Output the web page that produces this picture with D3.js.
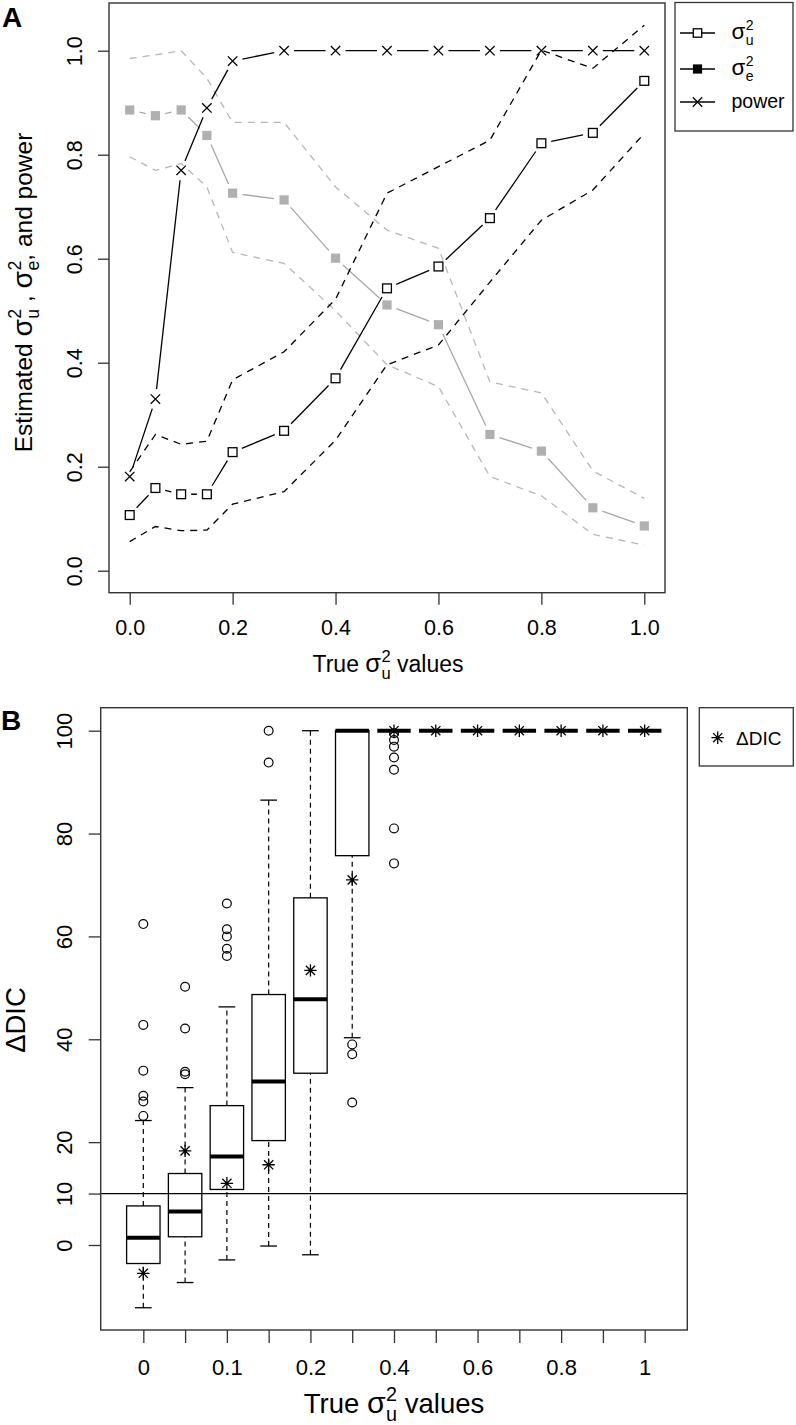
<!DOCTYPE html>
<html><head><meta charset="utf-8">
<script src="https://cdn.jsdelivr.net/npm/d3@7"></script>
<style>
body{margin:0;background:#fff}
svg{display:block}
text{font-family:"Liberation Sans",Arial,Helvetica,sans-serif;fill:#000;white-space:pre}
</style>
</head><body>
<svg id="c" width="796" height="1425"></svg>
<script>
// ---------------- DATA: panel A ----------------
const trueVals  = [0, 0.05, 0.1, 0.15, 0.2, 0.3, 0.4, 0.5, 0.6, 0.7, 0.8, 0.9, 1.0];
const sigmaU    = [0.107, 0.159, 0.147, 0.147, 0.228, 0.269, 0.370, 0.543, 0.585, 0.678, 0.822, 0.842, 0.942];
const sigmaULo  = [0.056, 0.085, 0.077, 0.078, 0.128, 0.152, 0.251, 0.396, 0.434, 0.555, 0.674, 0.732, 0.841];
const sigmaUHi  = [0.190, 0.262, 0.243, 0.249, 0.367, 0.421, 0.522, 0.726, 0.777, 0.828, 1.001, 0.966, 1.049];
const sigmaE    = [0.886, 0.875, 0.886, 0.837, 0.726, 0.713, 0.601, 0.511, 0.473, 0.262, 0.230, 0.121, 0.086];
const sigmaELo  = [0.796, 0.770, 0.783, 0.738, 0.612, 0.591, 0.500, 0.396, 0.354, 0.181, 0.144, 0.070, 0.049];
const sigmaEHi  = [0.985, 0.992, 1.000, 0.947, 0.862, 0.862, 0.738, 0.655, 0.620, 0.363, 0.342, 0.192, 0.139];
const power     = [0.181, 0.330, 0.770, 0.890, 0.980, 1, 1, 1, 1, 1, 1, 1, 1];
const aXTicks   = [0, 0.2, 0.4, 0.6, 0.8, 1.0];
const aYTicks   = [0, 0.2, 0.4, 0.6, 0.8, 1.0];

// ---------------- DATA: panel B ----------------
const categories = ["0","0.05","0.1","0.15","0.2","0.3","0.4","0.5","0.6","0.7","0.8","0.9","1"];
const bXLabels   = ["0","","0.1","","0.2","","0.4","","0.6","","0.8","","1"];
const whiskerLo  = [-12.2, -7.3, -2.9, -0.2, -1.9, 40.3, 100, 100, 100, 100, 100, 100, 100];
const q1         = [-3.6, 1.6, 10.8, 20.3, 33.4, 75.7, 100, 100, 100, 100, 100, 100, 100];
const medians    = [1.4, 6.5, 17.2, 31.8, 47.8, 100, 100, 100, 100, 100, 100, 100, 100];
const q3         = [7.6, 13.9, 27.1, 48.7, 67.5, 100, 100, 100, 100, 100, 100, 100, 100];
const whiskerHi  = [24.2, 30.6, 46.3, 86.5, 100, 100, 100, 100, 100, 100, 100, 100, 100];
const deltaDIC   = [-5.5, 18.3, 12.0, 15.6, 53.4, 71.0, 100, 100, 100, 100, 100, 100, 100];
const outliers   = [
  [62.4, 42.8, 33.9, 29.0, 27.9, 25.1],
  [50.2, 42.1, 33.7, 33.2],
  [66.4, 61.4, 60.0, 57.6, 56.2],
  [100, 93.8],
  [],
  [39.0, 37.1, 27.7],
  [99.5, 98.2, 96.9, 94.8, 92.4, 81.0, 74.2],
  [], [], [], [], [], []
];
const bYTicks = [0, 10, 20, 40, 60, 80, 100];
const refLine = 10;

// ---------------- helpers ----------------
const svg = d3.select("#c");
const FONT = '"Liberation Sans",Arial,Helvetica,sans-serif';

function mathText(sel, parts, F, bs) {
  bs = bs || 1.1;
  let reset = 0;
  parts.forEach(p => {
    if (typeof p === "string") {
      const t = sel.append("tspan").text(p);
      if (reset) { t.attr("dy", -reset); reset = 0; }
    } else {
      const b = sel.append("tspan").attr("font-size", bs * F).text(p.b);
      if (reset) { b.attr("dy", -reset); reset = 0; }
      const s = 0.72 * F;
      sel.append("tspan").attr("font-size", s).attr("dx", 0.5).attr("dy", -0.45 * F).text(p.sup);
      sel.append("tspan").attr("font-size", s).attr("dx", -0.556 * s).attr("dy", 0.45 * F + 0.30 * F).text(p.sub);
      reset = 0.30 * F;
    }
  });
}

function gappedPath(pts, gap) {
  let d = "";
  for (let i = 0; i < pts.length - 1; i++) {
    const [x0, y0] = pts[i], [x1, y1] = pts[i + 1];
    const L = Math.hypot(x1 - x0, y1 - y0);
    if (L <= 2 * gap) continue;
    const ux = (x1 - x0) / L, uy = (y1 - y0) / L;
    d += `M${x0 + ux * gap},${y0 + uy * gap}L${x1 - ux * gap},${y1 - uy * gap}`;
  }
  return d;
}

function cross(g, x, y, r, w) {
  g.append("path").attr("d", `M${x - r},${y - r}L${x + r},${y + r}M${x - r},${y + r}L${x + r},${y - r}`)
    .attr("stroke", "#000").attr("stroke-width", w).attr("fill", "none");
}
function asterisk(g, x, y) {
  const a = 6.2, b = 4.6;
  g.append("path").attr("d",
    `M${x - a},${y}L${x + a},${y}M${x},${y - a}L${x},${y + a}M${x - b},${y - b}L${x + b},${y + b}M${x - b},${y + b}L${x + b},${y - b}`)
    .attr("stroke", "#000").attr("stroke-width", 1.3).attr("fill", "none");
}

// ================= PANEL A =================
const A = {x0: 109, x1: 665, y0: 3, y1: 592.7};
const ax = d3.scaleLinear().domain([0, 1]).range([129.7, 644.3]);
const ay = d3.scaleLinear().domain([0, 1]).range([570.7, 50.7]);
const gA = svg.append("g");

const lineA = d3.line().x((d, i) => ax(trueVals[i])).y(d => ay(d));
const ptsOf = arr => arr.map((v, i) => [ax(trueVals[i]), ay(v)]);

// gray dashed CIs for sigma_e
[sigmaELo, sigmaEHi].forEach(arr => {
  gA.append("path").attr("d", lineA(arr)).attr("fill", "none")
    .attr("stroke", "#b8b8b8").attr("stroke-width", 1.3).attr("stroke-dasharray", "7,6");
});
// gray sigma_e line with gaps
gA.append("path").attr("d", gappedPath(ptsOf(sigmaE), 10)).attr("fill", "none")
  .attr("stroke", "#a8a8a8").attr("stroke-width", 1.3);
gA.selectAll("rect.se").data(sigmaE).join("rect").attr("class", "se")
  .attr("x", (d, i) => ax(trueVals[i]) - 4.6).attr("y", d => ay(d) - 4.6)
  .attr("width", 9.2).attr("height", 9.2).attr("fill", "#b0b0b0");

// black dashed CIs for sigma_u
[sigmaULo, sigmaUHi].forEach(arr => {
  gA.append("path").attr("d", lineA(arr)).attr("fill", "none")
    .attr("stroke", "#000").attr("stroke-width", 1.3).attr("stroke-dasharray", "7,6");
});
// sigma_u line with gaps
gA.append("path").attr("d", gappedPath(ptsOf(sigmaU), 10)).attr("fill", "none")
  .attr("stroke", "#000").attr("stroke-width", 1.3);
gA.selectAll("rect.su").data(sigmaU).join("rect").attr("class", "su")
  .attr("x", (d, i) => ax(trueVals[i]) - 4.4).attr("y", d => ay(d) - 4.4)
  .attr("width", 8.8).attr("height", 8.8).attr("fill", "#fff").attr("stroke", "#000").attr("stroke-width", 1.3);

// power
gA.append("path").attr("d", gappedPath(ptsOf(power), 10)).attr("fill", "none")
  .attr("stroke", "#000").attr("stroke-width", 1.3);
power.forEach((v, i) => cross(gA, ax(trueVals[i]), ay(v), 4.7, 1.3));

// frame
gA.append("rect").attr("x", A.x0).attr("y", A.y0).attr("width", A.x1 - A.x0).attr("height", A.y1 - A.y0)
  .attr("fill", "none").attr("stroke", "#333").attr("stroke-width", 1.4);

// axes A
const axA = gA.append("g").attr("transform", `translate(0,${A.y1})`)
  .call(d3.axisBottom(ax).tickValues(aXTicks).tickSize(12).tickFormat(d3.format(".1f")));
axA.select(".domain").remove();
axA.selectAll("line").attr("stroke", "#333").attr("stroke-width", 1.3);
axA.selectAll("text").attr("y", 42).attr("dy", 0).attr("font-size", 21.5).attr("font-family", FONT).attr("fill", "#000");

const ayA = gA.append("g").attr("transform", `translate(${A.x0},0)`)
  .call(d3.axisLeft(ay).tickValues(aYTicks).tickSize(11).tickFormat(d3.format(".1f")));
ayA.select(".domain").remove();
ayA.selectAll("line").attr("stroke", "#333").attr("stroke-width", 1.3);
ayA.selectAll("text").attr("x", 0).attr("y", 0).attr("dy", 0)
  .attr("transform", `translate(${81.7 - A.x0},0) rotate(-90)`)
  .attr("text-anchor", "middle").attr("font-size", 21.5).attr("font-family", FONT).attr("fill", "#000");

// titles A
const xtA = gA.append("text").attr("x", 388).attr("y", 672).attr("text-anchor", "middle").attr("font-size", 23);
mathText(xtA, ["True ", {b: "σ", sup: "2", sub: "u"}, " values"], 23);

const ytA = gA.append("text").attr("transform", "translate(32,292.5) rotate(-90)").attr("text-anchor", "middle").attr("font-size", 24.5);
mathText(ytA, ["Estimated ", {b: "σ", sup: "2", sub: "u"}, " , ", {b: "σ", sup: "2", sub: "e"}, ", and power"], 24.5, 1.15);

svg.append("text").attr("x", 2).attr("y", 26.5).attr("font-size", 28).attr("font-weight", "bold").text("A");

// legend A
const lgA = svg.append("g");
lgA.append("rect").attr("x", 675).attr("y", 2.5).attr("width", 118).attr("height", 128.5)
  .attr("fill", "#fff").attr("stroke", "#333").attr("stroke-width", 1.3);
const legA = [
  {y: 33, sym: "open", label: [{b: "σ", sup: "2", sub: "u"}]},
  {y: 69, sym: "filled", label: [{b: "σ", sup: "2", sub: "e"}]},
  {y: 102, sym: "cross", label: ["power"]}
];
legA.forEach(it => {
  lgA.append("line").attr("x1", 680).attr("x2", 715).attr("y1", it.y).attr("y2", it.y)
    .attr("stroke", "#000").attr("stroke-width", 1.3);
  if (it.sym === "open") {
    lgA.append("rect").attr("x", 697.5 - 4.2).attr("y", it.y - 4.2).attr("width", 8.4).attr("height", 8.4)
      .attr("fill", "#fff").attr("stroke", "#000").attr("stroke-width", 1.3);
  } else if (it.sym === "filled") {
    lgA.append("rect").attr("x", 697.5 - 4.6).attr("y", it.y - 4.6).attr("width", 9.2).attr("height", 9.2).attr("fill", "#000");
  } else {
    cross(lgA, 697.5, it.y, 4.7, 1.3);
  }
  const t = lgA.append("text").attr("x", 731.5).attr("y", it.y + 6).attr("font-size", 19.5);
  mathText(t, it.label, 19.5, 1.15);
});

// ================= PANEL B =================
const B = {x0: 100.7, x1: 687.3, y0: 707.7, y1: 1330};
const bx = d3.scaleLinear().domain([-0.02, 14.02]).range([B.x0, B.x1]);
const by = d3.scaleLinear().domain([0, 100]).range([1245, 730.7]);
const gB = svg.append("g");
const step = bx(2) - bx(1);
const hw = 0.4 * step, cw = 0.2 * step;

categories.forEach((c, k) => {
  const x = bx(k + 1);
  if (q1[k] > whiskerLo[k]) {
    gB.append("line").attr("x1", x).attr("x2", x).attr("y1", by(whiskerLo[k])).attr("y2", by(q1[k]))
      .attr("stroke", "#000").attr("stroke-width", 1.2).attr("stroke-dasharray", "5,4");
  }
  if (whiskerHi[k] > q3[k]) {
    gB.append("line").attr("x1", x).attr("x2", x).attr("y1", by(q3[k])).attr("y2", by(whiskerHi[k]))
      .attr("stroke", "#000").attr("stroke-width", 1.2).attr("stroke-dasharray", "5,4");
  }
  [whiskerLo[k], whiskerHi[k]].forEach(w => {
    gB.append("line").attr("x1", x - cw).attr("x2", x + cw).attr("y1", by(w)).attr("y2", by(w))
      .attr("stroke", "#000").attr("stroke-width", 1.3);
  });
  gB.append("rect").attr("x", x - hw).attr("y", by(q3[k])).attr("width", 2 * hw)
    .attr("height", Math.max(0, by(q1[k]) - by(q3[k])))
    .attr("fill", "#fff").attr("stroke", "#000").attr("stroke-width", 1.3);
  gB.append("line").attr("x1", x - hw).attr("x2", x + hw).attr("y1", by(medians[k])).attr("y2", by(medians[k]))
    .attr("stroke", "#000").attr("stroke-width", 4);
  outliers[k].forEach(o => {
    gB.append("circle").attr("cx", x).attr("cy", by(o)).attr("r", 4.4)
      .attr("fill", "none").attr("stroke", "#000").attr("stroke-width", 1.2);
  });
  asterisk(gB, x, by(deltaDIC[k]));
});

gB.append("line").attr("x1", B.x0).attr("x2", B.x1).attr("y1", by(refLine)).attr("y2", by(refLine))
  .attr("stroke", "#000").attr("stroke-width", 1.2);

gB.append("rect").attr("x", B.x0).attr("y", B.y0).attr("width", B.x1 - B.x0).attr("height", B.y1 - B.y0)
  .attr("fill", "none").attr("stroke", "#333").attr("stroke-width", 1.4);

const axB = gB.append("g").attr("transform", `translate(0,${B.y1})`)
  .call(d3.axisBottom(bx).tickValues(d3.range(1, categories.length + 1)).tickSize(13)
    .tickFormat((d, i) => bXLabels[i]));
axB.select(".domain").remove();
axB.selectAll("line").attr("stroke", "#333").attr("stroke-width", 1.3);
axB.selectAll("text").attr("y", 45).attr("dy", 0).attr("font-size", 22).attr("font-family", FONT).attr("fill", "#000");

const ayB = gB.append("g").attr("transform", `translate(${B.x0},0)`)
  .call(d3.axisLeft(by).tickValues(bYTicks).tickSize(12).tickFormat(d3.format("d")));
ayB.select(".domain").remove();
ayB.selectAll("line").attr("stroke", "#333").attr("stroke-width", 1.3);
ayB.selectAll("text").attr("x", 0).attr("y", 0).attr("dy", 0)
  .attr("transform", `translate(${71.7 - B.x0},0) rotate(-90)`)
  .attr("text-anchor", "middle").attr("font-size", 22).attr("font-family", FONT).attr("fill", "#000");

const xtB = gB.append("text").attr("x", 394).attr("y", 1413).attr("text-anchor", "middle").attr("font-size", 27.5);
mathText(xtB, ["True ", {b: "σ", sup: "2", sub: "u"}, " values"], 27.5);
gB.append("text").attr("transform", "translate(25,1020) rotate(-90)").attr("text-anchor", "middle")
  .attr("font-size", 27.5).text("ΔDIC");

svg.append("text").attr("x", 1).attr("y", 730).attr("font-size", 28).attr("font-weight", "bold").text("B");

const lgB = svg.append("g");
lgB.append("rect").attr("x", 699.3).attr("y", 707.7).attr("width", 94).attr("height", 58.3)
  .attr("fill", "#fff").attr("stroke", "#333").attr("stroke-width", 1.3);
asterisk(lgB, 717.7, 737.7);
lgB.append("text").attr("x", 736).attr("y", 744.5).attr("font-size", 19).text("ΔDIC");
</script>
</body></html>
